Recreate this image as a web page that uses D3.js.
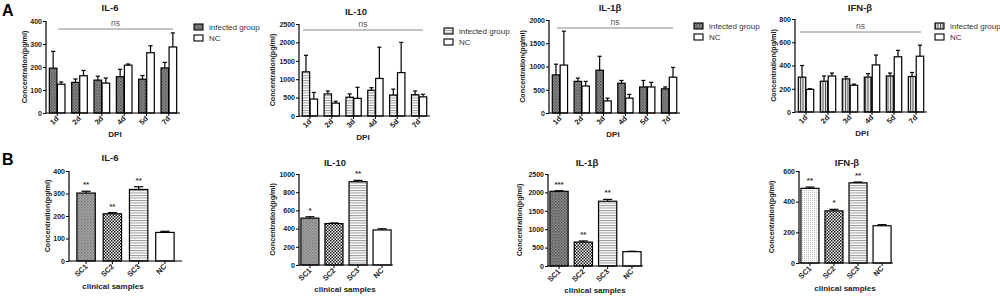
<!DOCTYPE html>
<html>
<head>
<meta charset="utf-8">
<script src="https://cdn.jsdelivr.net/npm/d3@7"></script>
<style>
  body { margin: 0; background: #fff; }
  svg { display: block; font-family: 'Liberation Sans', Arial, sans-serif; }
</style>
</head>
<body>
<svg width="1000" height="297"></svg>
<script>
// ---- data ----
const dpi = ['1d', '2d', '3d', '4d', '5d', '7d'];
const groupsA = ['infected group', 'NC'];

const il6Inf = [195, 133, 143, 158, 147, 196];
const il6InfErr = [73, 15, 17, 32, 16, 24];
const il6Nc = [125, 162, 130, 208, 262, 287];
const il6NcErr = [10, 23, 22, 5, 30, 61];

const il10Inf = [1200, 600, 510, 700, 570, 580];
const il10InfErr = [450, 80, 90, 70, 160, 100];
const il10Nc = [460, 350, 480, 1020, 1180, 520];
const il10NcErr = [180, 50, 300, 850, 820, 70];

const il1bInf = [820, 680, 920, 640, 560, 520];
const il1bInfErr = [230, 70, 300, 60, 140, 40];
const il1bNc = [1030, 580, 260, 320, 560, 770];
const il1bNcErr = [730, 100, 60, 80, 100, 210];

const ifnbInf = [300, 265, 285, 300, 310, 305];
const ifnbInfErr = [100, 45, 20, 30, 25, 35];
const ifnbNc = [195, 310, 230, 405, 475, 480];
const ifnbNcErr = [5, 25, 10, 85, 55, 95];

const samples = ['SC1', 'SC2', 'SC3', 'NC'];
const il6B = [302, 210, 318, 127];
const il6BErr = [8, 5, 12, 5];
const il6BStars = ['**', '**', '**', ''];
const il10B = [515, 455, 915, 385];
const il10BErr = [15, 7, 15, 13];
const il10BStars = ['*', '', '**', ''];
const il1bB = [2030, 650, 1760, 390];
const il1bBErr = [15, 30, 50, 10];
const il1bBStars = ['***', '**', '**', ''];
const ifnbB = [487, 340, 523, 243];
const ifnbBErr = [8, 10, 5, 7];
const ifnbBStars = ['**', '*', '**', ''];

const SVG = d3.select('svg');

// ---- fill patterns ----
const DEFS = SVG.append('defs');
function pattern(id, size, bg, draw) {
  const p = DEFS.append('pattern').attr('id', id)
    .attr('patternUnits', 'userSpaceOnUse')
    .attr('width', size).attr('height', size);
  p.append('rect').attr('width', size).attr('height', size).attr('fill', bg);
  draw(p);
}
pattern('crossDark', 3, '#8c8c8c', p => {
  p.append('rect').attr('width', 1.5).attr('height', 1.5).attr('fill', '#555');
  p.append('rect').attr('x', 1.5).attr('y', 1.5).attr('width', 1.5).attr('height', 1.5).attr('fill', '#666');
});
pattern('crossMid', 3, '#a8a8a8', p => {
  p.append('rect').attr('width', 1.5).attr('height', 1.5).attr('fill', '#777');
  p.append('rect').attr('x', 1.5).attr('y', 1.5).attr('width', 1.5).attr('height', 1.5).attr('fill', '#888');
});
pattern('hStripe', 2.5, '#fff', p => {
  p.append('rect').attr('width', 2.5).attr('height', 1).attr('fill', '#999');
});
pattern('vStripe', 2.5, '#eee', p => {
  p.append('rect').attr('width', 1).attr('height', 2.5).attr('fill', '#444');
});
pattern('checker', 3, '#fff', p => {
  p.append('rect').attr('width', 1.5).attr('height', 1.5).attr('fill', '#111');
  p.append('rect').attr('x', 1.5).attr('y', 1.5).attr('width', 1.5).attr('height', 1.5).attr('fill', '#111');
});
pattern('dots', 2, '#fff', p => {
  p.append('rect').attr('width', 1).attr('height', 1).attr('fill', '#bbb');
});

// ---- shared helpers ----
function axes(g, x, y, cfg) {
  const yAxis = d3.axisLeft(y).tickValues(cfg.ticks).tickFormat(d3.format('d'))
    .tickSize(3).tickSizeOuter(0).tickPadding(1);
  const yG = g.append('g').attr('transform', `translate(${cfg.x0},0)`).call(yAxis);
  const xAxis = d3.axisBottom(x).tickSize(3).tickSizeOuter(0).tickFormat('');
  const xG = g.append('g').attr('transform', `translate(0,${cfg.y0})`).call(xAxis);
  [yG, xG].forEach(a => {
    a.select('.domain').attr('stroke', '#000').attr('stroke-width', 1.2);
    a.selectAll('.tick line').attr('stroke', '#000').attr('stroke-width', 1);
  });
  yG.selectAll('.tick text').attr('font-size', 7).attr('font-weight', 'bold').attr('fill', '#222');
  yG.select('.domain').attr('d', `M0,${cfg.y0 + 0.5}V${y(cfg.ticks[cfg.ticks.length - 1])}`);
  xG.select('.domain').attr('d', `M${cfg.x0},0H${cfg.x1}`);

  // rotated category labels
  g.append('g').selectAll('text')
    .data(x.domain())
    .join('text')
    .attr('transform', d => `translate(${x(d) + x.bandwidth() / 2 + 2},${cfg.y0 + 6}) rotate(-45)`)
    .attr('text-anchor', 'end')
    .attr('font-size', 7.5)
    .attr('font-weight', 'bold')
    .attr('fill', '#222')
    .text(d => d);

  g.append('text')
    .attr('transform', `translate(${cfg.yLabelX},${(cfg.y0 + y(cfg.ticks[cfg.ticks.length - 1])) / 2}) rotate(-90)`)
    .attr('text-anchor', 'middle')
    .attr('font-size', 7.2)
    .attr('font-weight', 'bold')
    .attr('fill', '#222')
    .text('Concentration(pg/ml)');

  g.append('text')
    .attr('x', cfg.titleX).attr('y', cfg.titleY)
    .attr('text-anchor', 'middle')
    .attr('font-size', 9.5)
    .attr('font-weight', 'bold')
    .attr('fill', '#222')
    .text(cfg.title);

  g.append('text')
    .attr('x', cfg.xLabelX).attr('y', cfg.xLabelY)
    .attr('text-anchor', 'middle')
    .attr('font-size', 8)
    .attr('font-weight', 'bold')
    .attr('fill', '#222')
    .text(cfg.xLabel);
}

function errorBar(g, cx, w, yTop, yVal) {
  g.append('line').attr('x1', cx).attr('x2', cx).attr('y1', yVal).attr('y2', yTop)
    .attr('stroke', '#000').attr('stroke-width', 1.2);
  g.append('line').attr('x1', cx - w / 2).attr('x2', cx + w / 2).attr('y1', yTop).attr('y2', yTop)
    .attr('stroke', '#000').attr('stroke-width', 1.2);
}

// ---- panel A (time course) ----
function panelA(cfg) {
  const g = SVG.append('g');
  const y = d3.scaleLinear().domain([0, cfg.ticks[cfg.ticks.length - 1]]).range([cfg.y0, cfg.yTop]);
  const x = d3.scaleBand().domain(dpi).range([cfg.x0, cfg.x1]).paddingInner(0.3).paddingOuter(0.15);
  const xs = d3.scaleBand().domain(groupsA).range([0, x.bandwidth()]).paddingInner(0.06);
  const series = [
    { key: groupsA[0], vals: cfg.inf, errs: cfg.infErr, fill: `url(#${cfg.pat})` },
    { key: groupsA[1], vals: cfg.nc, errs: cfg.ncErr, fill: '#fff' }
  ];
  series.forEach(s => {
    s.vals.forEach((v, i) => {
      const bx = x(dpi[i]) + xs(s.key);
      errorBar(g, bx + xs.bandwidth() / 2, xs.bandwidth() * 0.55, y(v + s.errs[i]), y(v));
      g.append('rect')
        .attr('x', bx).attr('y', y(v))
        .attr('width', xs.bandwidth()).attr('height', cfg.y0 - y(v))
        .attr('fill', s.fill).attr('stroke', '#000').attr('stroke-width', 1.2);
    });
  });
  axes(g, x, y, cfg);

  // ns bracket
  g.append('line').attr('x1', cfg.nsX0).attr('x2', cfg.nsX1).attr('y1', cfg.nsY).attr('y2', cfg.nsY)
    .attr('stroke', '#888').attr('stroke-width', 1);
  g.append('text').attr('x', (cfg.nsX0 + cfg.nsX1) / 2).attr('y', cfg.nsY - 3)
    .attr('text-anchor', 'middle').attr('font-size', 8.5).attr('fill', '#555').text('ns');

  // legend
  series.forEach((s, i) => {
    g.append('rect').attr('x', cfg.legX).attr('y', cfg.legY + i * 11 - 3)
      .attr('width', 9).attr('height', 6)
      .attr('fill', s.fill).attr('stroke', '#000').attr('stroke-width', 1.1);
    g.append('text').attr('x', cfg.legX + 15).attr('y', cfg.legY + i * 11 + 3)
      .attr('font-size', 8).attr('fill', '#333').text(s.key);
  });
}

// ---- panel B (clinical samples) ----
const patB = ['', 'checker', 'hStripe', ''];
function panelB(cfg) {
  const g = SVG.append('g');
  const y = d3.scaleLinear().domain([0, cfg.ticks[cfg.ticks.length - 1]]).range([cfg.y0, cfg.yTop]);
  const x = d3.scaleBand().domain(samples).range([cfg.x0, cfg.x1]).paddingInner(cfg.pi).paddingOuter(cfg.po);
  cfg.vals.forEach((v, i) => {
    const bx = x(samples[i]);
    const fill = i === 0 ? `url(#${cfg.pat1})` : (patB[i] ? `url(#${patB[i]})` : '#fff');
    errorBar(g, bx + x.bandwidth() / 2, x.bandwidth() * 0.5, y(v + cfg.errs[i]), y(v));
    g.append('rect')
      .attr('x', bx).attr('y', y(v))
      .attr('width', x.bandwidth()).attr('height', cfg.y0 - y(v))
      .attr('fill', fill).attr('stroke', '#000').attr('stroke-width', 1.2);
    if (cfg.stars[i]) {
      g.append('text').attr('x', bx + x.bandwidth() / 2).attr('y', y(v + cfg.errs[i]) - 4)
        .attr('text-anchor', 'middle').attr('font-size', 8).attr('font-weight', 'bold')
        .attr('fill', '#333').text(cfg.stars[i]);
    }
  });
  axes(g, x, y, cfg);
}

panelA({ title: 'IL-6', titleX: 110, titleY: 11, ticks: [0, 100, 200, 300, 400],
  x0: 46, x1: 180, y0: 113, yTop: 21, yLabelX: 27, xLabel: 'DPI', xLabelX: 115, xLabelY: 137,
  inf: il6Inf, infErr: il6InfErr, nc: il6Nc, ncErr: il6NcErr, pat: 'crossDark',
  nsX0: 58, nsX1: 173, nsY: 29, legX: 194, legY: 27 });
panelA({ title: 'IL-10', titleX: 356, titleY: 15, ticks: [0, 500, 1000, 1500, 2000, 2500],
  x0: 299, x1: 430, y0: 116, yTop: 24, yLabelX: 275, xLabel: 'DPI', xLabelX: 363, xLabelY: 140,
  inf: il10Inf, infErr: il10InfErr, nc: il10Nc, ncErr: il10NcErr, pat: 'hStripe',
  nsX0: 303, nsX1: 423, nsY: 30, legX: 444, legY: 31 });
panelA({ title: 'IL-1\u03b2', titleX: 610, titleY: 11, ticks: [0, 500, 1000, 1500, 2000],
  x0: 549, x1: 680, y0: 113, yTop: 20, yLabelX: 525, xLabel: 'DPI', xLabelX: 613, xLabelY: 137,
  inf: il1bInf, infErr: il1bInfErr, nc: il1bNc, ncErr: il1bNcErr, pat: 'crossDark',
  nsX0: 557, nsX1: 673, nsY: 28, legX: 694, legY: 26 });
panelA({ title: 'IFN-\u03b2', titleX: 860, titleY: 11, ticks: [0, 200, 400, 600, 800],
  x0: 795, x1: 927, y0: 112, yTop: 19, yLabelX: 776, xLabel: 'DPI', xLabelX: 862, xLabelY: 136,
  inf: ifnbInf, infErr: ifnbInfErr, nc: ifnbNc, ncErr: ifnbNcErr, pat: 'vStripe',
  nsX0: 800, nsX1: 921, nsY: 32, legX: 935, legY: 26 });

panelB({ title: 'IL-6', titleX: 110, titleY: 161, ticks: [0, 100, 200, 300, 400],
  x0: 69, x1: 182, y0: 261, yTop: 171, yLabelX: 50, xLabel: 'clinical samples', xLabelX: 113, xLabelY: 289,
  vals: il6B, errs: il6BErr, stars: il6BStars, pat1: 'crossMid', pi: 0.3, po: 0.3 });
panelB({ title: 'IL-10', titleX: 335, titleY: 166, ticks: [0, 200, 400, 600, 800, 1000],
  x0: 299, x1: 393, y0: 265, yTop: 174, yLabelX: 275, xLabel: 'clinical samples', xLabelX: 345, xLabelY: 292,
  vals: il10B, errs: il10BErr, stars: il10BStars, pat1: 'crossMid', pi: 0.25, po: 0.08 });
panelB({ title: 'IL-1\u03b2', titleX: 587, titleY: 166, ticks: [0, 500, 1000, 1500, 2000, 2500],
  x0: 548, x1: 643, y0: 266, yTop: 174, yLabelX: 522, xLabel: 'clinical samples', xLabelX: 595, xLabelY: 293,
  vals: il1bB, errs: il1bBErr, stars: il1bBStars, pat1: 'crossDark', pi: 0.25, po: 0.08 });
panelB({ title: 'IFN-\u03b2', titleX: 847, titleY: 166, ticks: [0, 200, 400, 600],
  x0: 799, x1: 893, y0: 263, yTop: 171, yLabelX: 774, xLabel: 'clinical samples', xLabelX: 845, xLabelY: 291,
  vals: ifnbB, errs: ifnbBErr, stars: ifnbBStars, pat1: 'dots', pi: 0.25, po: 0.08 });

// panel letters
SVG.append('text').attr('x', 2).attr('y', 16).attr('font-size', 16).attr('font-weight', 'bold').text('A');
SVG.append('text').attr('x', 2).attr('y', 165).attr('font-size', 16).attr('font-weight', 'bold').text('B');
</script>
</body>
</html>
